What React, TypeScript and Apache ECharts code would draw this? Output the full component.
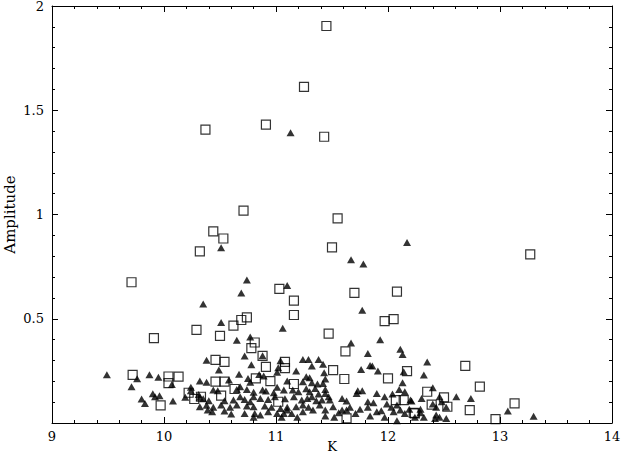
import React, { useEffect, useRef } from "react";
import * as echarts from "echarts";

// Open squares: K, Amplitude
const squareK = [
  11.45, 11.25, 10.37, 10.91, 11.43, 10.71, 11.55, 10.44, 10.53, 10.32, 11.50, 13.27,
  9.71, 9.91, 10.29, 10.50, 10.62, 10.69, 10.74, 10.81, 10.78, 11.03, 11.16, 11.16,
  11.70, 12.08, 11.97, 12.05, 11.47, 11.62, 9.72, 10.04, 10.04, 10.13, 9.97, 10.22,
  10.27, 10.33, 10.88, 10.46, 10.54, 10.91, 11.08, 11.08, 10.46, 10.54, 10.82, 10.95,
  11.16, 10.63, 10.51, 11.02, 11.51, 11.61, 12.00, 12.17, 12.07, 12.14, 11.63, 12.23,
  12.69, 12.82, 12.35, 12.50, 12.53, 12.39, 12.73, 12.24, 12.96, 13.13,
];
const squareAmp = [
  1.904, 1.612, 1.407, 1.431, 1.373, 1.019, 0.981, 0.919, 0.885, 0.823, 0.842, 0.809,
  0.675, 0.407, 0.447, 0.418, 0.467, 0.494, 0.507, 0.386, 0.359, 0.643, 0.587, 0.518,
  0.624, 0.630, 0.489, 0.498, 0.429, 0.344, 0.231, 0.223, 0.191, 0.222, 0.085, 0.145,
  0.115, 0.126, 0.322, 0.303, 0.293, 0.269, 0.293, 0.263, 0.198, 0.198, 0.214, 0.201,
  0.187, 0.163, 0.131, 0.102, 0.254, 0.211, 0.214, 0.249, 0.110, 0.110, 0.022, 0.049,
  0.274, 0.174, 0.150, 0.123, 0.078, 0.088, 0.062, 0.046, 0.019, 0.094,
];

// Filled triangles: K, Amplitude
const triangleK = [
  11.13, 12.17, 10.51, 11.67, 11.78, 10.74, 10.69, 10.35, 11.10, 11.06, 11.77, 11.67,
  11.93, 12.11, 10.51, 10.65, 10.77,
  10.38, 9.49, 9.76, 9.71, 9.87, 9.95, 10.07, 9.80, 9.83, 9.90, 9.92, 9.96, 10.08,
  10.19, 10.24, 10.24, 10.32, 10.38, 10.32, 10.35, 10.32, 10.38, 10.39, 10.31,
  10.72, 10.88, 10.78, 10.49, 10.67, 11.04, 11.02, 11.01, 11.18, 11.24, 11.29,
  10.58, 10.75, 10.77, 10.85, 10.89, 11.10, 11.24, 11.27, 11.01,
  10.44, 10.48, 10.65, 10.68, 10.74, 10.80, 10.88, 10.91, 10.98, 11.07, 11.15, 11.20, 11.27,
  10.40, 10.54, 10.62, 10.68, 10.72, 10.77, 10.80, 10.86, 10.93, 10.99, 11.08, 11.16, 11.23, 11.28,
  10.44, 10.51, 10.59, 10.65, 10.74, 10.80, 10.90, 10.96, 11.04, 11.10, 11.18, 11.24,
  10.43, 10.54, 10.60, 10.72, 10.81, 10.86, 10.93, 11.01, 11.07, 11.10, 11.14, 11.19,
  11.24, 11.05, 10.80,
  11.82, 12.13, 11.76, 11.86, 11.84, 11.91, 11.38, 11.42, 11.43, 11.30, 11.44, 11.73,
  11.77, 12.14, 12.10,
  11.32, 12.13, 11.32, 11.37, 11.42, 11.44, 11.35, 11.30, 11.38, 11.44, 11.47, 11.32,
  11.36, 11.41, 11.48, 11.59, 11.63, 11.72, 11.90, 11.97, 12.04, 12.15, 12.21, 11.82,
  11.87, 11.99, 12.08, 11.29, 11.33, 11.39, 11.44, 11.51, 11.56, 11.59, 11.63, 11.66,
  11.71, 11.75, 11.82, 11.84, 11.90, 11.94, 11.97, 12.03, 12.05, 12.11, 12.15, 12.19,
  12.08, 11.44, 11.52,
  12.35, 12.32, 12.40, 12.20, 12.30, 12.46, 12.48, 12.61, 12.74, 12.40, 12.43, 12.52,
  12.29, 12.29, 12.32, 12.24, 12.43, 12.46, 12.42, 12.52, 13.07, 13.30,
];
const triangleAmp = [
  1.392, 0.866, 0.840, 0.783, 0.762, 0.686, 0.623, 0.571, 0.659, 0.455, 0.541, 0.384,
  0.399, 0.354, 0.482, 0.397, 0.413,
  0.301, 0.231, 0.212, 0.174, 0.231, 0.219, 0.185, 0.115, 0.094, 0.140, 0.126, 0.131, 0.105,
  0.124, 0.171, 0.155, 0.201, 0.195, 0.123, 0.116, 0.078, 0.085, 0.062, 0.137,
  0.321, 0.322, 0.279, 0.254, 0.234, 0.298, 0.265, 0.243, 0.250, 0.305, 0.305,
  0.206, 0.214, 0.195, 0.233, 0.225, 0.201, 0.198, 0.222, 0.171,
  0.158, 0.155, 0.161, 0.174, 0.161, 0.148, 0.158, 0.153, 0.145, 0.158, 0.158, 0.150, 0.164,
  0.107, 0.107, 0.110, 0.126, 0.113, 0.102, 0.126, 0.118, 0.113, 0.126, 0.116, 0.126, 0.110, 0.118,
  0.075, 0.086, 0.075, 0.086, 0.081, 0.078, 0.081, 0.075, 0.070, 0.075, 0.078, 0.086,
  0.054, 0.057, 0.043, 0.046, 0.046, 0.038, 0.054, 0.046, 0.046, 0.062, 0.046, 0.027,
  0.054, 0.027, 0.027,
  0.333, 0.329, 0.257, 0.273, 0.276, 0.249, 0.305, 0.282, 0.241, 0.217, 0.211, 0.155,
  0.155, 0.246, 0.161,
  0.273, 0.193, 0.193, 0.187, 0.190, 0.161, 0.166, 0.150, 0.139, 0.142, 0.126, 0.126,
  0.107, 0.110, 0.110, 0.118, 0.105, 0.142, 0.142, 0.126, 0.139, 0.150, 0.105, 0.102,
  0.097, 0.091, 0.086, 0.075, 0.062, 0.086, 0.062, 0.078, 0.049, 0.062, 0.062, 0.075,
  0.046, 0.066, 0.075, 0.033, 0.054, 0.059, 0.027, 0.075, 0.054, 0.062, 0.046, 0.066,
  0.011, 0.033, 0.027,
  0.293, 0.230, 0.169, 0.110, 0.118, 0.126, 0.102, 0.126, 0.118, 0.091, 0.075, 0.075,
  0.066, 0.049, 0.027, 0.027, 0.038, 0.027, 0.022, 0.022, 0.057, 0.032,
];

const xTickLabels = ["9", "10", "11", "12", "13", "14"];
const yTickLabels = ["", "0.5", "1", "1.5", "2"];

const FONT = "DejaVu Serif";

export default function App() {
  const ref = useRef<HTMLDivElement>(null);
  useEffect(() => {
    if (!ref.current) return;
    const chart = echarts.init(ref.current, null, { renderer: "svg" });
    const lineStyle = { color: "#000", width: 1 };
    const baseX = {
      type: "value",
      min: 9,
      max: 14,
      interval: 1,
      axisLine: { show: true, onZero: false, lineStyle },
      axisTick: { show: true, inside: true, length: 6, lineStyle },
      minorTick: { show: true, splitNumber: 5, length: 3, lineStyle },
      splitLine: { show: false },
    };
    const baseY = {
      type: "value",
      min: 0,
      max: 2,
      interval: 0.5,
      axisLine: { show: true, onZero: false, lineStyle },
      axisTick: { show: true, inside: true, length: 6, lineStyle },
      minorTick: { show: true, splitNumber: 5, length: 3, lineStyle },
      splitLine: { show: false },
    };
    const sq = squareK.map((k, i) => [k, squareAmp[i]]);
    const tr = triangleK.map((k, i) => [k, triangleAmp[i]]);
    chart.setOption({
      animation: false,
      backgroundColor: "#fff",
      grid: {
        left: 52,
        right: 9,
        top: 6,
        bottom: 32,
        containLabel: false,
        outerBoundsMode: "none",
      },
      xAxis: [
        {
          ...baseX,
          position: "bottom",
          name: "K",
          nameLocation: "middle",
          nameGap: 16,
          nameMoveOverlap: false,
          nameTextStyle: { color: "#000", fontFamily: FONT, fontSize: 13, lineHeight: 14 },
          axisLabel: {
            color: "#000",
            fontFamily: FONT,
            fontSize: 13,
            margin: 7,
            formatter: (v: number) => xTickLabels[Math.round(v - 9)] ?? "",
          },
        },
        { ...baseX, position: "top", axisLabel: { show: false } },
      ],
      yAxis: [
        {
          ...baseY,
          position: "left",
          name: "Amplitude",
          nameLocation: "middle",
          nameGap: 35,
          nameMoveOverlap: false,
          nameRotate: 90,
          nameTextStyle: { color: "#000", fontFamily: FONT, fontSize: 15 },
          axisLabel: {
            color: "#000",
            fontFamily: FONT,
            fontSize: 13,
            margin: 8,
            formatter: (v: number) => yTickLabels[Math.round(v / 0.5)] ?? "",
          },
        },
        { ...baseY, position: "right", axisLabel: { show: false } },
      ],
      series: [
        {
          type: "scatter",
          xAxisIndex: 0,
          yAxisIndex: 0,
          symbol: "triangle",
          symbolSize: [8, 7],
          itemStyle: { color: "#000" },
          data: tr,
        },
        {
          type: "scatter",
          xAxisIndex: 0,
          yAxisIndex: 0,
          symbol: "rect",
          symbolSize: 9,
          itemStyle: { color: "rgba(255,255,255,0)", borderColor: "#000", borderWidth: 1.2 },
          data: sq,
        },
      ],
    });
    return () => chart.dispose();
  }, []);
  return (
    <div
      ref={ref}
      style={{ position: "fixed", left: 0, top: 0, width: 621, height: 455 }}
    />
  );
}
